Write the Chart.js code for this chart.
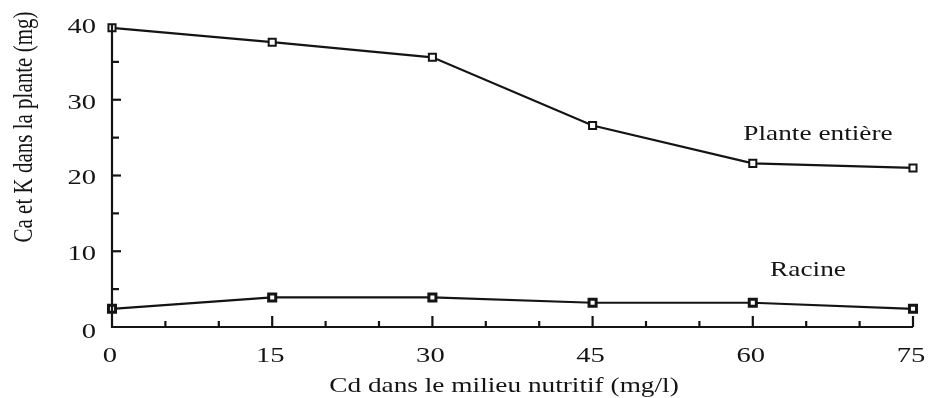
<!DOCTYPE html>
<html>
<head>
<meta charset="utf-8">
<script src="https://cdn.jsdelivr.net/npm/chart.js@4"></script>
<style>
  html, body { margin: 0; padding: 0; background: #fff; }
  #wrap { width: 928px; height: 398px; position: relative; }
</style>
</head>
<body>
<div id="wrap"><canvas id="chart"></canvas></div>
<script>
const cdLevels = [0, 15, 30, 45, 60, 75];
const planteEntiere = [39.5, 37.6, 35.6, 26.6, 21.6, 21.0];
const racine = [2.4, 3.9, 3.9, 3.2, 3.2, 2.4];
const xTicks = [0, 15, 30, 45, 60, 75];
const yTicks = [0, 10, 20, 30, 40];

const serif = "'Liberation Serif', 'DejaVu Serif', serif";
const ink = '#141414';
const stretch = 1.3; // the scan is wider than tall

function wideText(ctx, txt, x, y) {
    ctx.save();
    ctx.translate(x, y);
    ctx.scale(stretch, 1);
    ctx.fillText(txt, 0, 0);
    ctx.restore();
}

// axis lines, inward tick marks, labels and axis titles
const decor = {
    id: 'decor',
    afterDraw(chart) {
        const ctx = chart.ctx;
        const x = chart.scales.x;
        const y = chart.scales.y;
        const area = chart.chartArea;
        ctx.save();
        ctx.strokeStyle = ink;
        ctx.lineWidth = 2.2;
        ctx.beginPath();
        ctx.moveTo(area.left, y.getPixelForValue(40));
        ctx.lineTo(area.left, area.bottom);
        ctx.lineTo(area.right, area.bottom);
        ctx.stroke();

        for (let v = 5; v <= 35; v += 5) {
            const py = y.getPixelForValue(v);
            const len = v % 10 === 0 ? 9 : 7;
            ctx.beginPath();
            ctx.moveTo(area.left, py);
            ctx.lineTo(area.left + len, py);
            ctx.stroke();
        }
        for (let v = 5; v <= 75; v += 5) {
            const px = x.getPixelForValue(v);
            const len = v % 15 === 0 ? 11 : 6;
            ctx.beginPath();
            ctx.moveTo(px, area.bottom);
            ctx.lineTo(px, area.bottom - len);
            ctx.stroke();
        }

        ctx.fillStyle = ink;
        ctx.font = '22px ' + serif;
        ctx.textBaseline = 'middle';

        ctx.textAlign = 'right';
        yTicks.forEach(v => {
            const py = y.getPixelForValue(v) + (v === 0 ? 5 : 3);
            wideText(ctx, String(v), 96, py);
        });
        ctx.textAlign = 'center';
        xTicks.forEach(v => {
            wideText(ctx, String(v), x.getPixelForValue(v) - 2, 356);
        });

        ctx.font = '21px ' + serif;
        wideText(ctx, 'Plante entière', 818, 134);
        wideText(ctx, 'Racine', 808, 270);
        wideText(ctx, 'Cd dans le milieu nutritif (mg/l)', 504, 386);

        ctx.translate(25, 127);
        ctx.scale(stretch, 1);
        ctx.rotate(-Math.PI / 2);
        ctx.fillText('Ca et K dans la plante (mg)', 0, 0);
        ctx.restore();
    }
};

new Chart(document.getElementById('chart'), {
    type: 'line',
    data: {
        datasets: [
            {
                label: 'Plante entière',
                data: cdLevels.map((c, i) => ({ x: c, y: planteEntiere[i] })),
                borderColor: ink,
                borderWidth: 2.2,
                pointStyle: 'rect',
                pointRadius: 5,
                pointBorderWidth: 2,
                pointBackgroundColor: '#fff',
                pointBorderColor: ink,
                tension: 0
            },
            {
                label: 'Racine',
                data: cdLevels.map((c, i) => ({ x: c, y: racine[i] })),
                borderColor: ink,
                borderWidth: 2.2,
                pointStyle: 'rect',
                pointRadius: 5,
                pointBorderWidth: 3,
                pointBackgroundColor: '#fff',
                pointBorderColor: ink,
                tension: 0
            }
        ]
    },
    options: {
        responsive: true,
        maintainAspectRatio: false,
        animation: false,
        events: [],
        clip: false,
        layout: { padding: { top: 24, right: 15, left: 0, bottom: 0 } },
        plugins: {
            legend: { display: false },
            tooltip: { enabled: false }
        },
        scales: {
            x: {
                type: 'linear',
                min: 0,
                max: 75,
                afterBuildTicks: s => { s.ticks = xTicks.map(v => ({ value: v })); },
                grid: { display: false, drawTicks: false },
                border: { display: false },
                ticks: { display: false },
                afterFit: s => { s.height = 71; }
            },
            y: {
                min: 0,
                max: 40,
                afterBuildTicks: s => { s.ticks = yTicks.map(v => ({ value: v })); },
                grid: { display: false, drawTicks: false },
                border: { display: false },
                ticks: { display: false },
                afterFit: s => { s.width = 112; }
            }
        }
    },
    plugins: [decor]
});
</script>
</body>
</html>
